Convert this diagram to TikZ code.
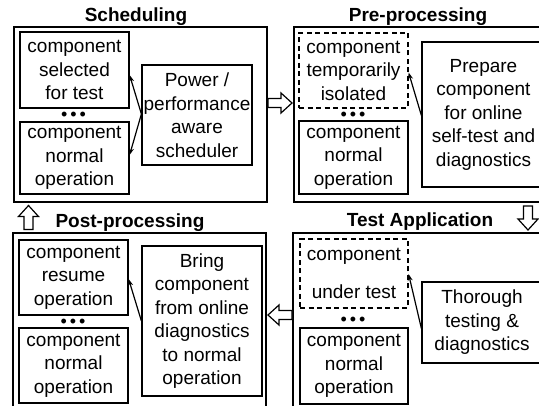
\documentclass[tikz,border=0pt]{standalone}
\usepackage{fontspec}
\setmainfont{Liberation Sans}
\usetikzlibrary{arrows.meta}
\begin{document}
\begin{tikzpicture}[x=1pt,y=-1pt,
  box/.style={draw,line width=1.2pt,inner sep=0pt,align=center,font=\fontsize{19}{23.5}\selectfont},
  dbox/.style={box,dash pattern=on 5pt off 3.5pt},
  panel/.style={draw,line width=1.2pt,inner sep=0pt},
  ttl/.style={font=\bfseries\fontsize{19}{23.5}\selectfont,inner sep=0pt},
  dotrow/.style={font=\fontsize{18}{18}\selectfont,inner sep=0pt,anchor=base},
  link/.style={line width=1.2pt,-{Stealth[length=7pt,width=5pt]}},
  blockarrow/.pic={\draw[line width=1.2pt,fill=white] (-12,-4.5) -- (1,-4.5) -- (1,-10) -- (12,0) -- (1,10) -- (1,4.5) -- (-12,4.5) -- cycle;}
]
\useasboundingbox (0,0) rectangle (539,406);
\clip (0,0) rectangle (539,406);

% ---- Scheduling (top left)
\node[ttl] (t1) at (136,17) {Scheduling};
\node[panel,minimum width=253pt,minimum height=175pt] (p1) at (140.5,114.5) {};
\node[box,minimum width=109pt,minimum height=76pt] (c11) at (74.5,70) {component\\selected\\for test};
\node[dotrow] (d1) at (73.5,121) {\smash{•\hspace{3pt}•\hspace{3pt}•}};
\node[box,minimum width=109pt,minimum height=72pt] (c12) at (74.5,158) {component\\normal\\operation};
\node[box,minimum width=110pt,minimum height=100pt] (s1) at (197,115) {Power /\\performance\\aware\\scheduler};
\draw[link] ([yshift=1pt]s1.west) -- ([yshift=-5pt]c11.east);
\draw[link] ([yshift=1pt]s1.west) -- ([yshift=3pt]c12.east);

% ---- Pre-processing (top right)
\node[ttl] (t2) at (418,17) {Pre-processing};
\node[panel,minimum width=266pt,minimum height=175pt] (p2) at (427,114.5) {};
\node[dbox,minimum width=109pt,minimum height=75pt] (c21) at (353.5,70.5) {component\\temporarily\\isolated};
\node[dotrow] (d2) at (353,121) {\smash{•\hspace{3pt}•\hspace{3pt}•}};
\node[box,minimum width=109pt,minimum height=73pt] (c22) at (353.5,157.5) {component\\normal\\operation};
\node[box,minimum width=123pt,minimum height=145pt] (s2) at (483.5,114.5) {Prepare\\component\\for online\\self-test and\\diagnostics};
\draw[link] ([yshift=-1pt]s2.west) -- ([yshift=-2pt]c21.east);

% ---- Post-processing (bottom left)
\node[ttl] (t3) at (130,223) {Post-processing};
\node[panel,minimum width=253pt,minimum height=190pt] (p3) at (139.5,328) {};
\node[box,minimum width=109pt,minimum height=75pt] (c31) at (73.5,277.5) {component\\resume\\operation};
\node[dotrow] (d3) at (73,328) {\smash{•\hspace{3pt}•\hspace{3pt}•}};
\node[box,minimum width=109pt,minimum height=75pt] (c32) at (73.5,365.5) {component\\normal\\operation};
\node[box,minimum width=120pt,minimum height=150pt] (s3) at (202,321) {Bring\\component\\from online\\diagnostics\\to normal\\operation};
\draw[link] (s3.west) -- ([yshift=-1.5pt]c31.east);

% ---- Test Application (bottom right)
\node[ttl] (t4) at (420,222) {Test Application};
\node[panel,minimum width=267pt,minimum height=190pt] (p4) at (426.5,328) {};
\node[dbox,minimum width=108pt,minimum height=69pt] (c41) at (354,273.5) {component\\[15pt]under test};
\node[dotrow] (d4) at (353,326) {\smash{•\hspace{3pt}•\hspace{3pt}•}};
\node[box,minimum width=108pt,minimum height=76pt] (c42) at (354,366) {component\\normal\\operation};
\node[box,minimum width=120pt,minimum height=81pt] (s4) at (482,322.5) {Thorough\\testing \&\\diagnostics};
\draw[link] ([yshift=-6pt]s4.west) -- ([yshift=-0.5pt]c41.east);

% ---- flow between the stages
\pic at (280,103) {blockarrow};
\pic[rotate=-90] at (528,218) {blockarrow};
\pic[rotate=180] at (280,315) {blockarrow};
\pic[rotate=90] at (28.5,217.5) {blockarrow};
\end{tikzpicture}
\end{document}
